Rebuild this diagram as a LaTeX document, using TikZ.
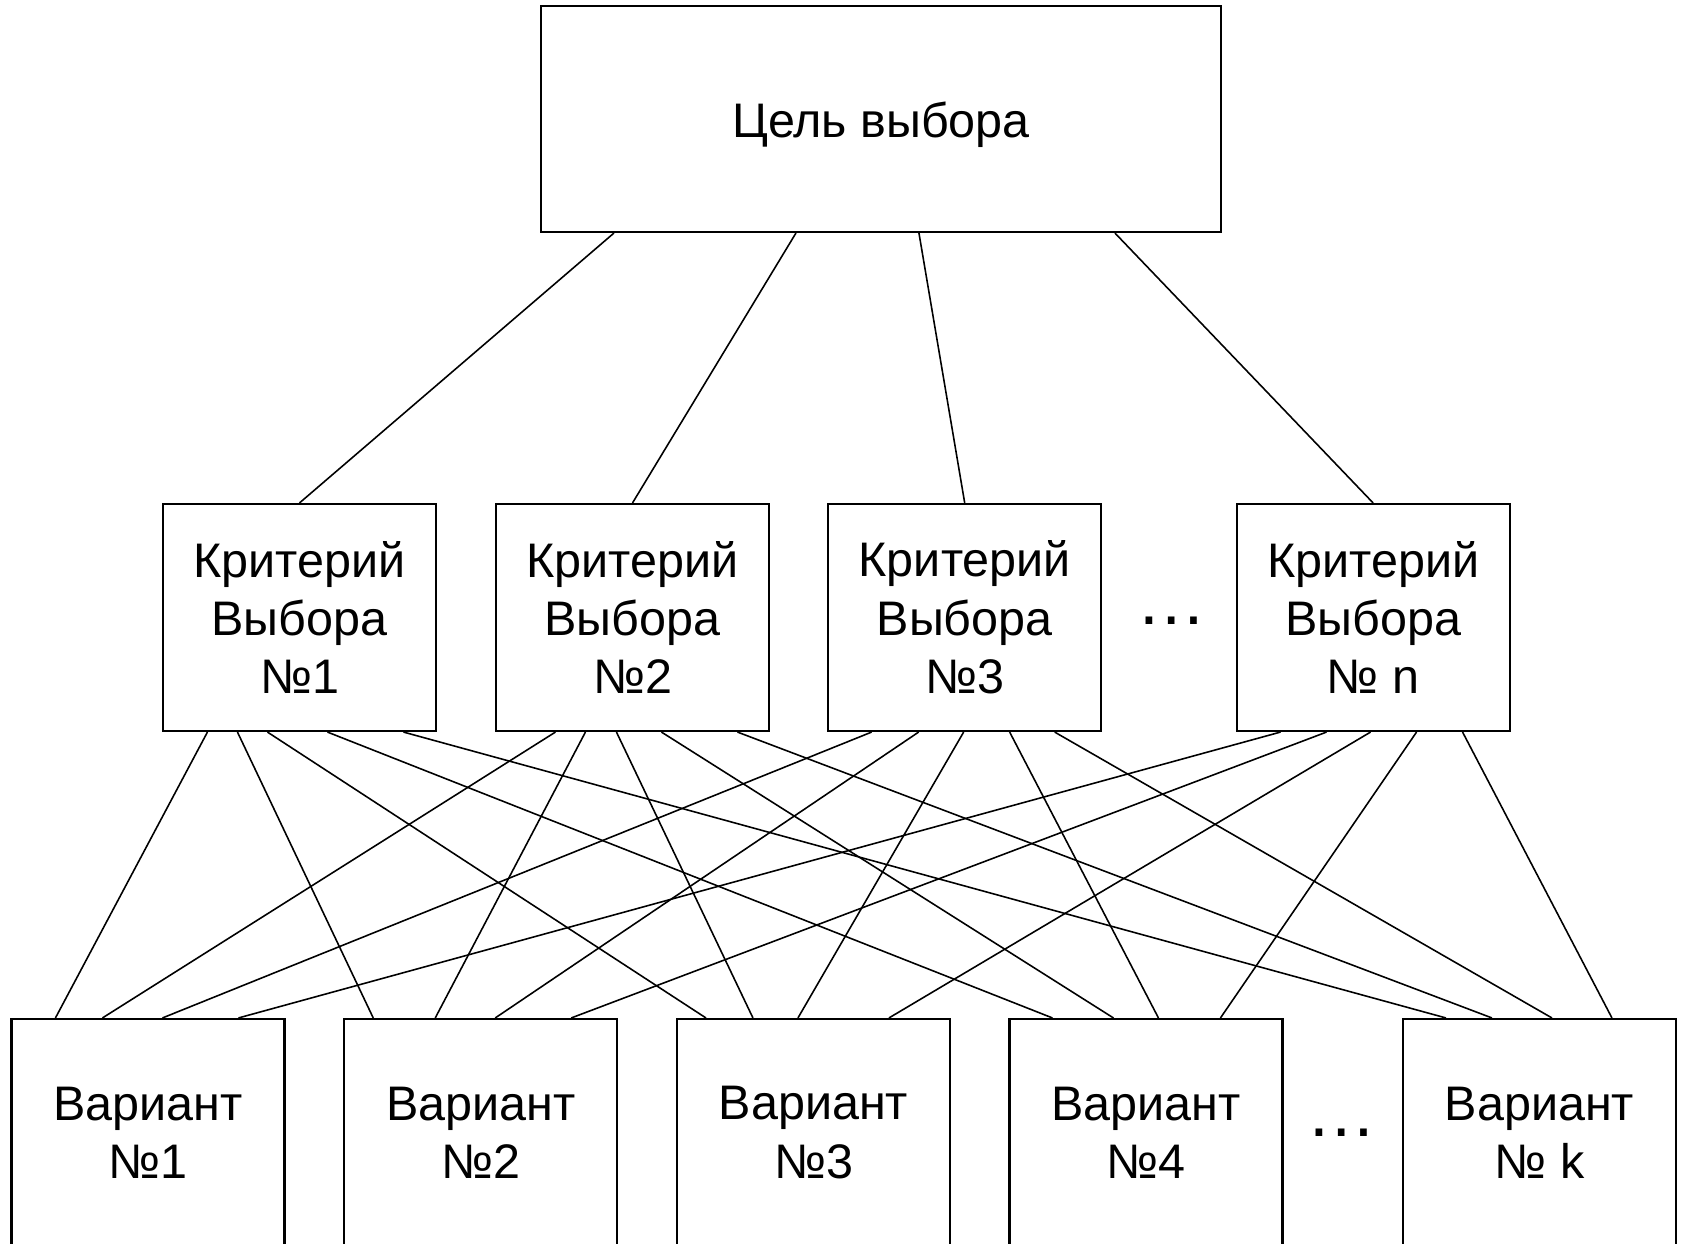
\documentclass[tikz,border=0pt]{standalone}
\usepackage{fontspec}
\setmainfont{Liberation Sans}
\usepackage{tikz}
\usetikzlibrary{calc}

\begin{document}
\begin{tikzpicture}[
    box/.style={draw, line width=0.6pt, inner sep=0pt, align=center,
      minimum width=2.73cm, minimum height=2.27cm,
      font=\fontsize{13.8}{16.6}\selectfont},
    link/.style={line width=0.45pt},
    dots/.style={anchor=base, inner sep=0pt, font=\fontsize{20}{24}\selectfont}
  ]
  \useasboundingbox (0,0) rectangle (16.83,12.43);

  % Nodes
  \node[box, minimum width=6.8cm, minimum height=2.26cm, text height=13.5pt] (goal) at (8.81, 11.24) {Цель выбора};

  \node[box] (c1) at (2.995, 6.255) {Критерий\\Выбора\\№1};
  \node[box] (c2) at (6.325, 6.255) {Критерий\\Выбора\\№2};
  \node[box] (c3) at (9.647, 6.255) {Критерий\\Выбора\\№3};
  \node[dots] (cdots) at (11.72, 6.185) {…};
  \node[box] (cn) at (13.731, 6.255) {Критерий\\Выбора\\№ n};

  \node[box] (v1) at (1.48, 1.105) {Вариант\\№1};
  \node[box] (v2) at (4.808, 1.105) {Вариант\\№2};
  \node[box] (v3) at (8.135, 1.105) {Вариант\\№3};
  \node[box] (v4) at (11.46, 1.105) {Вариант\\№4};
  \node[dots] (vdots) at (13.42, 1.07) {…};
  \node[box] (vk) at (15.395, 1.105) {Вариант\\№ k};

  % goal -> criteria
  \draw[link] ($(goal.south west)+(0.74,0)$) -- (c1.north);
  \draw[link] ($(goal.south west)+(2.56,0)$) -- (c2.north);
  \draw[link] ($(goal.south west)+(3.79,0)$) -- (c3.north);
  \draw[link] ($(goal.south west)+(5.75,0)$) -- (cn.north);

  % criterion 1 -> variants
  \draw[link] ($(c1.south west)+(0.455,0)$) -- ($(v1.north west)+(0.45,0)$);
  \draw[link] ($(c1.south west)+(0.755,0)$) -- ($(v2.north west)+(0.30,0)$);
  \draw[link] ($(c1.south west)+(1.055,0)$) -- ($(v3.north west)+(0.30,0)$);
  \draw[link] ($(c1.south west)+(1.655,0)$) -- ($(v4.north west)+(0.44,0)$);
  \draw[link] ($(c1.south west)+(2.415,0)$) -- ($(vk.north west)+(0.44,0)$);

  % criterion 2 -> variants
  \draw[link] ($(c2.south west)+(0.605,0)$) -- ($(v1.north west)+(0.92,0)$);
  \draw[link] ($(c2.south west)+(0.905,0)$) -- ($(v2.north west)+(0.92,0)$);
  \draw[link] ($(c2.south west)+(1.215,0)$) -- ($(v3.north west)+(0.77,0)$);
  \draw[link] ($(c2.south west)+(1.665,0)$) -- ($(v4.north west)+(1.05,0)$);
  \draw[link] ($(c2.south west)+(2.425,0)$) -- ($(vk.north west)+(0.90,0)$);

  % criterion 3 -> variants
  \draw[link] ($(c3.south west)+(0.445,0)$) -- ($(v1.north west)+(1.52,0)$);
  \draw[link] ($(c3.south west)+(0.915,0)$) -- ($(v2.north west)+(1.52,0)$);
  \draw[link] ($(c3.south west)+(1.365,0)$) -- ($(v3.north west)+(1.22,0)$);
  \draw[link] ($(c3.south west)+(1.825,0)$) -- ($(v4.north west)+(1.50,0)$);
  \draw[link] ($(c3.south west)+(2.275,0)$) -- ($(vk.north west)+(1.50,0)$);

  % criterion n -> variants
  \draw[link] ($(cn.south west)+(0.45,0)$) -- ($(v1.north west)+(2.28,0)$);
  \draw[link] ($(cn.south west)+(0.91,0)$) -- ($(v2.north west)+(2.28,0)$);
  \draw[link] ($(cn.south west)+(1.35,0)$) -- ($(v3.north west)+(2.13,0)$);
  \draw[link] ($(cn.south west)+(1.81,0)$) -- ($(v4.north west)+(2.12,0)$);
  \draw[link] ($(cn.south west)+(2.27,0)$) -- ($(vk.north west)+(2.10,0)$);
\end{tikzpicture}
\end{document}
